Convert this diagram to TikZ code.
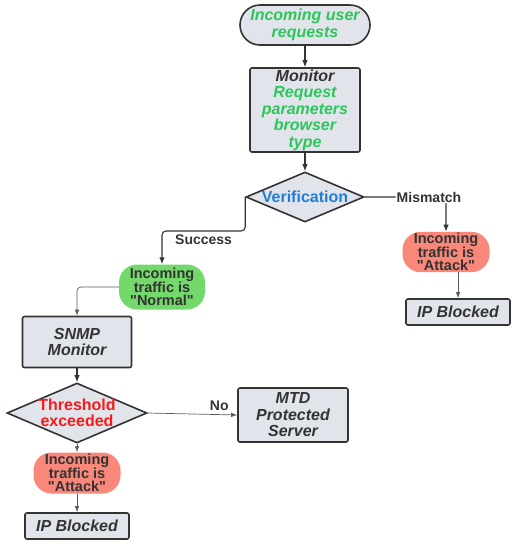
\documentclass[tikz,border=0pt]{standalone}
\usepackage{fontspec}
\setmainfont{Liberation Sans}
\newfontfamily\plainsans{Liberation Sans}
\usetikzlibrary{arrows.meta,shapes.geometric}

\definecolor{boxgrey}{HTML}{E1E4EA}
\definecolor{edgedark}{HTML}{333333}
\definecolor{attackred}{HTML}{F9877A}
\definecolor{normalgreen}{HTML}{74D96B}
\definecolor{textgreen}{HTML}{2BC75A}
\definecolor{textblue}{HTML}{1F7FD6}
\definecolor{textred}{HTML}{F41C1C}

\newcommand{\grn}[1]{\textcolor{textgreen}{#1}}

\tikzset{
  proc/.style={draw=edgedark, line width=1.6pt, fill=boxgrey, rounded corners=2pt,
    align=center, text=edgedark, inner sep=1pt,
    font=\bfseries\itshape\fontsize{16}{16.5}\selectfont},
  pill/.style={rounded corners=18pt, align=center, text=edgedark, inner sep=1pt,
    font=\plainsans\bfseries\fontsize{14.5}{13.8}\selectfont},
  decide/.style={diamond, draw=edgedark, line width=1.6pt, fill=boxgrey, inner sep=0pt},
  dtext/.style={font=\bfseries\fontsize{16}{16.5}\selectfont, align=center},
  lbl/.style={font=\bfseries\fontsize{14}{14}\selectfont, text=edgedark, inner sep=1pt},
  flow/.style={-{Latex[length=7pt,width=5.5pt]}, draw=edgedark, line width=1.1pt},
  thinflow/.style={-{Latex[length=6pt,width=4.5pt]}, draw=edgedark!80, line width=0.7pt}
}

\begin{document}
\begin{tikzpicture}[x=1pt,y=-1pt]
  \useasboundingbox (0,0) rectangle (517,550);
  % top of the chart
  \node[proc, rounded corners=20pt, minimum width=130, minimum height=40,
    font=\bfseries\itshape\fontsize{16}{17}\selectfont]
    (start) at (305,25) {\grn{Incoming user}\\\grn{requests}};
  \node[proc, minimum width=110, minimum height=84]
    (monitor) at (305,110) {Monitor\\\grn{Request}\\\grn{parameters}\\\grn{browser}\\\grn{type}};
  \node[decide, minimum width=118, minimum height=50,
    label={[dtext, text=textblue]center:Verification}] (verif) at (305,197) {};
  % mismatch branch
  \node[pill, fill=attackred, minimum width=87, minimum height=40]
    (attack1) at (446,252) {Incoming\\traffic is\\"Attack"};
  \node[proc, minimum width=104, minimum height=26] (ipblock1) at (458,312) {IP Blocked};
  % success branch
  \node[pill, fill=normalgreen, minimum width=86, minimum height=45]
    (normal) at (162,287) {Incoming\\traffic is\\"Normal"};
  \node[proc, minimum width=109, minimum height=51] (snmp) at (77,342) {SNMP\\Monitor};
  \node[decide, minimum width=140, minimum height=60,
    label={[dtext, text=textred]center:Threshold\\exceeded}] (thresh) at (77,413) {};
  \node[proc, minimum width=110, minimum height=54] (mtd) at (293,415) {MTD\\Protected\\Server};
  \node[pill, fill=attackred, minimum width=87, minimum height=41]
    (attack2) at (77,473) {Incoming\\traffic is\\"Attack"};
  \node[proc, minimum width=104, minimum height=26] (ipblock2) at (77,526) {IP Blocked};

  \begin{scope}[rounded corners=4pt]
    \draw[flow] (start) -- (monitor);
    \draw[flow] (monitor) -- (verif);
    \draw[flow] (verif.east) -| node[lbl, fill=white, pos=0.5, xshift=-17] {Mismatch} (attack1.north);
    \draw[thinflow] (attack1.south -| ipblock1.north) -- (ipblock1.north);
    \draw[flow] (verif.west) -- ++(0,34) -| node[lbl, pos=0.25, below=2pt] {Success} (normal.north);
    \draw[thinflow] (normal.west) -| (snmp.north);
    \draw[flow] (snmp) -- (thresh);
    \draw[thinflow] (thresh.east) -- node[lbl, above=3pt, pos=0.8] {No} (mtd.west);
    \draw[thinflow] (thresh.south) -- (attack2.north);
    \draw[thinflow] (attack2) -- (ipblock2);
  \end{scope}
\end{tikzpicture}
\end{document}
